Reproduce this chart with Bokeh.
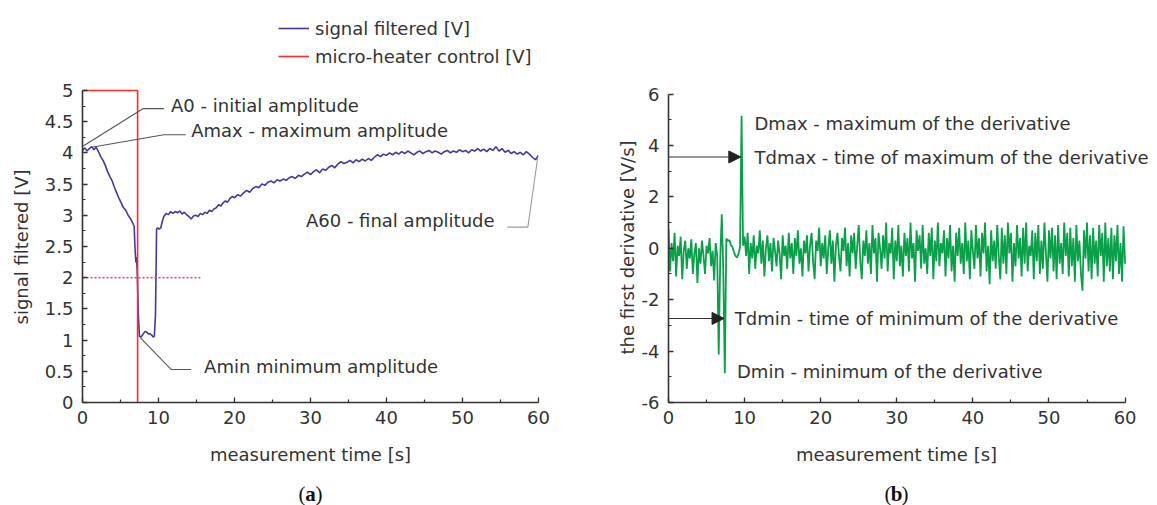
from bokeh.plotting import figure
from bokeh.layouts import row, column
from bokeh.models import Range1d, FixedTicker, Label, Arrow, NormalHead, Legend, LegendItem, Title
from bokeh.embed import file_html
from bokeh.resources import INLINE

# ---------------- data: panel (a) ----------------
sig_t = [0.0, 0.3, 0.6, 0.9, 1.2, 1.5, 1.8, 2.1, 2.4, 2.7, 3.0, 3.3, 3.6, 3.9, 4.2, 4.5, 4.8, 5.1, 5.4, 5.7,
         6.0, 6.3, 6.6, 6.8, 6.9, 7.0, 7.05, 7.1, 7.2, 7.35, 7.5, 7.7, 7.9, 8.1, 8.3, 8.5, 8.7, 8.9, 9.1, 9.3,
         9.45, 9.6, 9.7, 9.75, 9.9, 10.1, 10.3, 10.5, 10.7, 11.0, 11.3, 11.6, 11.9, 12.2, 12.5, 12.8, 13.1, 13.4, 13.7, 14.0,
         14.3, 14.6, 14.9, 15.2, 15.5, 15.8, 16.1, 16.4, 16.7, 17.0, 17.3, 17.6, 17.9, 18.2, 18.5, 18.8, 19.1, 19.4, 19.7, 20.0,
         20.4, 20.8, 21.2, 21.6, 22.0, 22.4, 22.8, 23.2, 23.6, 24.0, 24.4, 24.8, 25.2, 25.6, 26.0, 26.4, 26.8, 27.2, 27.6, 28.0,
         28.4, 28.8, 29.2, 29.6, 30.0, 30.4, 30.8, 31.2, 31.6, 32.0, 32.4, 32.8, 33.2, 33.6, 34.0, 34.4, 34.8, 35.2, 35.6, 36.0,
         36.4, 36.8, 37.2, 37.6, 38.0, 38.4, 38.8, 39.2, 39.6, 40.0, 40.4, 40.8, 41.2, 41.6, 42.0, 42.4, 42.8, 43.2, 43.6, 44.0,
         44.4, 44.8, 45.2, 45.6, 46.0, 46.4, 46.8, 47.2, 47.6, 48.0, 48.4, 48.8, 49.2, 49.6, 50.0, 50.4, 50.8, 51.2, 51.6, 52.0,
         52.4, 52.8, 53.2, 53.6, 54.0, 54.4, 54.8, 55.2, 55.6, 56.0, 56.4, 56.8, 57.2, 57.6, 58.0, 58.4, 58.8, 59.2, 59.6, 60.0]
sig_v = [4.04, 4.08, 4.03, 4.07, 4.10, 4.05, 4.09, 4.02, 3.94, 3.88, 3.80, 3.70, 3.62, 3.55, 3.45, 3.36, 3.27, 3.20, 3.12, 3.08,
         3.00, 2.95, 2.88, 2.82, 2.50, 2.28, 2.24, 2.33, 2.10, 1.40, 1.06, 1.05, 1.08, 1.12, 1.14, 1.12, 1.10, 1.10, 1.08, 1.05,
         1.06, 1.40, 2.30, 2.78, 2.80, 2.78, 2.80, 2.90, 2.98, 3.03, 3.01, 3.06, 3.03, 3.06, 3.04, 3.07, 3.02, 3.05, 3.01, 2.98,
         2.94, 2.99, 3.00, 2.98, 3.03, 3.01, 3.05, 3.03, 3.08, 3.06, 3.10, 3.12, 3.17, 3.15, 3.20, 3.23, 3.21, 3.27, 3.30, 3.28,
         3.33, 3.31, 3.36, 3.40, 3.37, 3.43, 3.46, 3.44, 3.50, 3.48, 3.53, 3.55, 3.52, 3.57, 3.55, 3.58, 3.56, 3.60, 3.62, 3.59,
         3.64, 3.62, 3.66, 3.69, 3.65, 3.70, 3.73, 3.68, 3.74, 3.72, 3.77, 3.80, 3.76, 3.82, 3.86, 3.83, 3.85, 3.88, 3.84, 3.89,
         3.86, 3.90, 3.87, 3.91, 3.88, 3.93, 3.97, 3.94, 3.98, 3.96, 4.00, 3.97, 4.01, 3.98, 4.02, 3.99, 4.03, 4.00, 3.97, 4.01,
         4.03, 3.99, 4.02, 4.04, 4.00, 4.03, 4.01, 3.98, 4.02, 4.04, 4.00, 4.03, 4.01, 4.05, 4.02, 4.04, 4.00, 4.05, 4.03, 4.07,
         4.03, 4.06, 4.02, 4.07, 4.04, 4.10, 4.03, 4.07, 4.01, 4.04, 3.99, 4.02, 3.98, 4.01, 3.97, 4.02, 3.98, 3.93, 3.89, 3.96]
heater_t = [0.0, 7.25, 7.25]
heater_v = [5.0, 5.0, 0.0]
thr_t = [0.0, 15.5]
thr_v = [2.0, 2.0]

xa_ticks = [0, 10, 20, 30, 40, 50, 60]
xa_minor = [5, 15, 25, 35, 45, 55]
ya_ticks = [0, 0.5, 1, 1.5, 2, 2.5, 3, 3.5, 4, 4.5, 5]
ya_labels = ["0", "0.5", "1", "1.5", "2", "2.5", "3", "3.5", "4", "4.5", "5"]
ya_minor = [0.25, 0.75, 1.25, 1.75, 2.25, 2.75, 3.25, 3.75, 4.25, 4.75]

# ---------------- data: panel (b) ----------------
der_dt = 0.2  # sample period [s]
der_v = [0.75, -0.9, 0.2, -0.5, 0.6, -1.1, 0.1, -0.3, 0.45, -1.2, -0.1, 0.3, -0.8, 0.0, -0.4, 0.35, -1.0,
         -0.2, 0.2, -1.35, 0.0, -0.6, 0.3, -0.3, -1.0, 0.1, -0.2, 0.4, -0.7, -0.1, -1.25, 0.2, -0.3,
         -4.13, -0.4, 1.32, -0.9, -4.86, 0.38, 0.28, 0.32, 0.12, 0.05, -0.15, -0.3, -0.36, -0.22, 0.05, 5.15, 0.1, 0.45,
         -0.3, 0.6, -1.0, 0.2, -0.4, 0.5, -0.8, 0.1, -0.2, 0.7,
         -0.6, 0.3, -1.1, 0.0, 0.5, -0.5, 0.2, -0.9, 0.4, -0.1,
         -0.7, 0.3, -0.2, -1.2, 0.5, -0.3, 0.1, -0.8, 0.6, -0.4,
         0.2, -1.0, 0.4, -0.3, 0.7, -0.6, 0.0, -1.1, 0.3, -0.2,
         0.5, -0.9, 0.1, 0.6, -0.5, -1.2, 0.3, -0.1, 0.8, -0.7,
         0.2, -0.4, 0.5, -1.0, 0.0, 0.7, -0.6, 0.3, -1.3, 0.1,
         0.6, -0.3, -0.9, 0.4, -0.1, 0.8, -0.7, 0.2, -1.1, 0.5,
         -0.2, 0.6, -0.8, 0.1, 0.9, -0.5, -1.2, 0.3, -0.3, 0.7,
         -0.6, 0.2, -1.0, 0.9, -0.2, 0.4, -1.3, 0.6, 0.0, -0.8,
         0.5, -0.4, 1.0, -0.9, 0.2, -0.2, 0.8, -1.2, 0.3, -0.5,
         0.9, -0.7, 0.1, -1.1, 0.6, -0.3, 0.4, -0.9, 1.0, -0.4,
         0.2, -1.3, 0.7, -0.1, 0.5, -0.8, 0.9, -0.6, 0.0, -1.0,
         0.6, -0.3, 0.8, -1.2, 0.3, -0.5, 1.0, -0.7, 0.2, -0.2,
         0.7, -1.1, 0.4, -0.4, 0.9, -0.9, 0.1, -1.3, 0.6, -0.3,
         0.8, -0.6, 0.2, -1.0, 1.0, -0.5, 0.3, -1.2, 0.7, -0.1,
         -0.8, 0.9, -0.4, 0.4, -1.1, 0.6, -0.2, 1.0, -0.9, 0.1,
         -1.4, 0.7, -0.5, 0.3, -0.8, 0.9, -0.3, -1.2, 0.8, -0.6,
         0.5, -1.0, 1.0, -0.2, 0.6, -1.3, 0.2, -0.7, 0.9, -0.4,
         0.4, -1.1, 0.8, -0.6, 1.0, -0.9, 0.1, -0.3, 0.7, -1.2,
         0.6, -0.5, 0.9, -1.0, 0.3, -0.8, 1.0, -0.2, -1.3, 0.7,
         -0.4, 0.8, -0.9, 0.5, -1.2, 0.9, -0.6, 0.2, -1.0, 1.0,
         -0.3, 0.6, -1.1, 0.8, -0.7, 0.4, -1.3, 0.9, -0.5, 0.3,
         -1.0, -1.65, 0.7, -0.4, 1.0, -0.9, 0.5, -1.2, 0.8, -0.6,
         0.3, -1.1, 0.9, -0.3, 0.6, -1.3, 1.0, -0.7, 0.4, -0.9,
         0.8, -1.2, 0.5, -0.5, 0.9, -1.0, 0.2, -1.3, 0.85, -0.6]
der_t = [round(i * der_dt, 2) for i in range(len(der_v))]

xb_ticks = [0, 10, 20, 30, 40, 50, 60]
xb_minor = [5, 15, 25, 35, 45, 55]
yb_ticks = [-6, -4, -2, 0, 2, 4, 6]
yb_labels = ["-6", "-4", "-2", "0", "2", "4", "6"]
yb_minor = [-5, -3, -1, 1, 3, 5]

x_title = "measurement time [s]"
panel_letters = ["a", "b"]

# ---------------- styling ----------------
FONT = "DejaVu Sans"
FS = "18px"
TXT = "#333333"
AX = "#333333"
BLUE = "#4a35a0"
RED = "#ff2b2b"
PINK = "#d8407a"
GREEN = "#0aa04a"


def style_axes(p, xt, xm, yt, ym, xb, yb, y_over=None):
    p.xaxis.ticker = FixedTicker(ticks=xt, minor_ticks=xm)
    p.yaxis.ticker = FixedTicker(ticks=yt, minor_ticks=ym)
    p.xaxis.bounds = xb
    p.yaxis.bounds = yb
    if y_over:
        p.yaxis.major_label_overrides = y_over
    for ax in (p.xaxis, p.yaxis):
        ax.axis_line_color = AX
        ax.axis_line_width = 1.6
        ax.major_tick_line_color = AX
        ax.minor_tick_line_color = AX
        ax.major_tick_line_width = 1.3
        ax.minor_tick_line_width = 1.2
        ax.major_tick_in = 5
        ax.major_tick_out = 0
        ax.minor_tick_in = 3
        ax.minor_tick_out = 0
        ax.major_label_text_font = FONT
        ax.major_label_text_font_size = FS
        ax.major_label_text_color = TXT
    p.xaxis.major_label_standoff = 8
    p.yaxis.major_label_standoff = 9
    p.xgrid.visible = False
    p.ygrid.visible = False
    p.outline_line_color = None


def left_title(p, text, offset, standoff, valign):
    p.add_layout(Title(text=text, align="left", offset=offset, standoff=standoff,
                       vertical_align=valign,
                       text_font=FONT, text_font_size=FS, text_font_style="normal",
                       text_color=TXT), "left")


def label(p, x, y, text, **kw):
    p.add_layout(Label(x=x, y=y, text=text, text_font=FONT, text_font_size=FS,
                       text_color=TXT, text_baseline="middle", **kw))


# ---------------- panel (a) ----------------
pa = figure(width=590, height=445, x_range=Range1d(0, 60), y_range=Range1d(0, 6.442),
            output_backend="svg", toolbar_location=None,
            min_border_left=82, min_border_right=52, min_border_top=0, min_border_bottom=43)
style_axes(pa, xa_ticks, xa_minor, ya_ticks, ya_minor, (0, 60), (0, 5),
           y_over={float(v): s for v, s in zip(ya_ticks, ya_labels)})
left_title(pa, "signal filtered [V]", 78, 16, "top")

r_sig = pa.line(sig_t, sig_v, line_color=BLUE, line_width=1.6)
pa.line(thr_t, thr_v, line_color=PINK, line_width=1.5, line_dash="2 2")
r_heat = pa.line(heater_t, heater_v, line_color=RED, line_width=1.6)

# leader lines
pa.line([0.1, 8.0, 10.7], [4.11, 4.71, 4.71], line_color="#555555", line_width=1.1)
pa.line([1.2, 10.7, 13.6], [4.09, 4.29, 4.29], line_color="#555555", line_width=1.1)
pa.line([55.9, 58.6, 59.9], [2.81, 2.81, 3.93], line_color="#9a9a9a", line_width=1.1)
pa.line([7.6, 11.65, 14.3], [1.04, 0.53, 0.53], line_color="#555555", line_width=1.1)

label(pa, 11.65, 4.76, "A0 - initial amplitude")
label(pa, 14.3, 4.36, "Amax - maximum amplitude")
label(pa, 29.4, 2.91, "A60 - final amplitude")
label(pa, 16.0, 0.58, "Amin minimum amplitude")

legend = Legend(items=[LegendItem(label="signal filtered [V]", renderers=[r_sig]),
                       LegendItem(label="micro-heater control [V]", renderers=[r_heat])],
                location=(196, 334), padding=0, spacing=4, glyph_width=31, glyph_height=24,
                label_height=24, label_standoff=6, border_line_color=None,
                background_fill_alpha=0, label_text_font=FONT, label_text_font_size=FS,
                label_text_color=TXT)
pa.add_layout(legend)

# ---------------- panel (b) ----------------
pb = figure(width=567, height=445, x_range=Range1d(0, 64.26), y_range=Range1d(-6, 9.637),
            output_backend="svg", toolbar_location=None,
            min_border_left=78, min_border_right=0, min_border_top=0, min_border_bottom=40)
style_axes(pb, xb_ticks, xb_minor, yb_ticks, yb_minor, (0, 60), (-6, 6),
           y_over={float(v): s for v, s in zip(yb_ticks, yb_labels)})
left_title(pb, "the first derivative [V/s]", 48, 2, "bottom")

pb.line(der_t, der_v, line_color=GREEN, line_width=1.8)

pb.add_layout(Arrow(end=NormalHead(size=12, fill_color="#222222", line_color="#222222"),
                    x_start=0, y_start=3.55, x_end=9.5, y_end=3.55,
                    line_color="#333333", line_width=1.1))
pb.add_layout(Arrow(end=NormalHead(size=12, fill_color="#222222", line_color="#222222"),
                    x_start=0, y_start=-2.73, x_end=7.3, y_end=-2.73,
                    line_color="#333333", line_width=1.1))

label(pb, 11.3, 4.87, "Dmax - maximum of the derivative")
label(pb, 11.3, 3.53, "Tdmax - time of maximum of the derivative")
label(pb, 8.7, -2.74, "Tdmin - time of minimum of the derivative")
label(pb, 9.0, -4.8, "Dmin - minimum of the derivative")

# ---------------- bottom strip: x-axis titles and panel tags ----------------
strip_x = [310, 896]   # centres of the two x axes (0..60) in pixels
pt = figure(width=1157, height=60, x_range=Range1d(0, 1157), y_range=Range1d(0, 60),
            output_backend="svg", toolbar_location=None, x_axis_type=None, y_axis_type=None,
            min_border=0)
pt.outline_line_color = None
pt.xgrid.visible = False
pt.ygrid.visible = False
for tx, letter in zip(strip_x, panel_letters):
    pt.add_layout(Label(x=tx, y=51, text=x_title, text_align="center", text_baseline="middle",
                        text_font=FONT, text_font_size=FS, text_color=TXT))
    common = dict(text_font="Liberation Serif", text_font_size="21px", text_color="#111111",
                  text_baseline="middle", y=12)
    pt.add_layout(Label(x=tx, text="(", text_align="right", x_offset=-5, **common))
    pt.add_layout(Label(x=tx, text=letter, text_align="center", text_font_style="bold", **common))
    pt.add_layout(Label(x=tx, text=")", text_align="left", x_offset=5, **common))

layout = column(row(pa, pb), pt)
open("out.html", "w").write(file_html(layout, INLINE))
